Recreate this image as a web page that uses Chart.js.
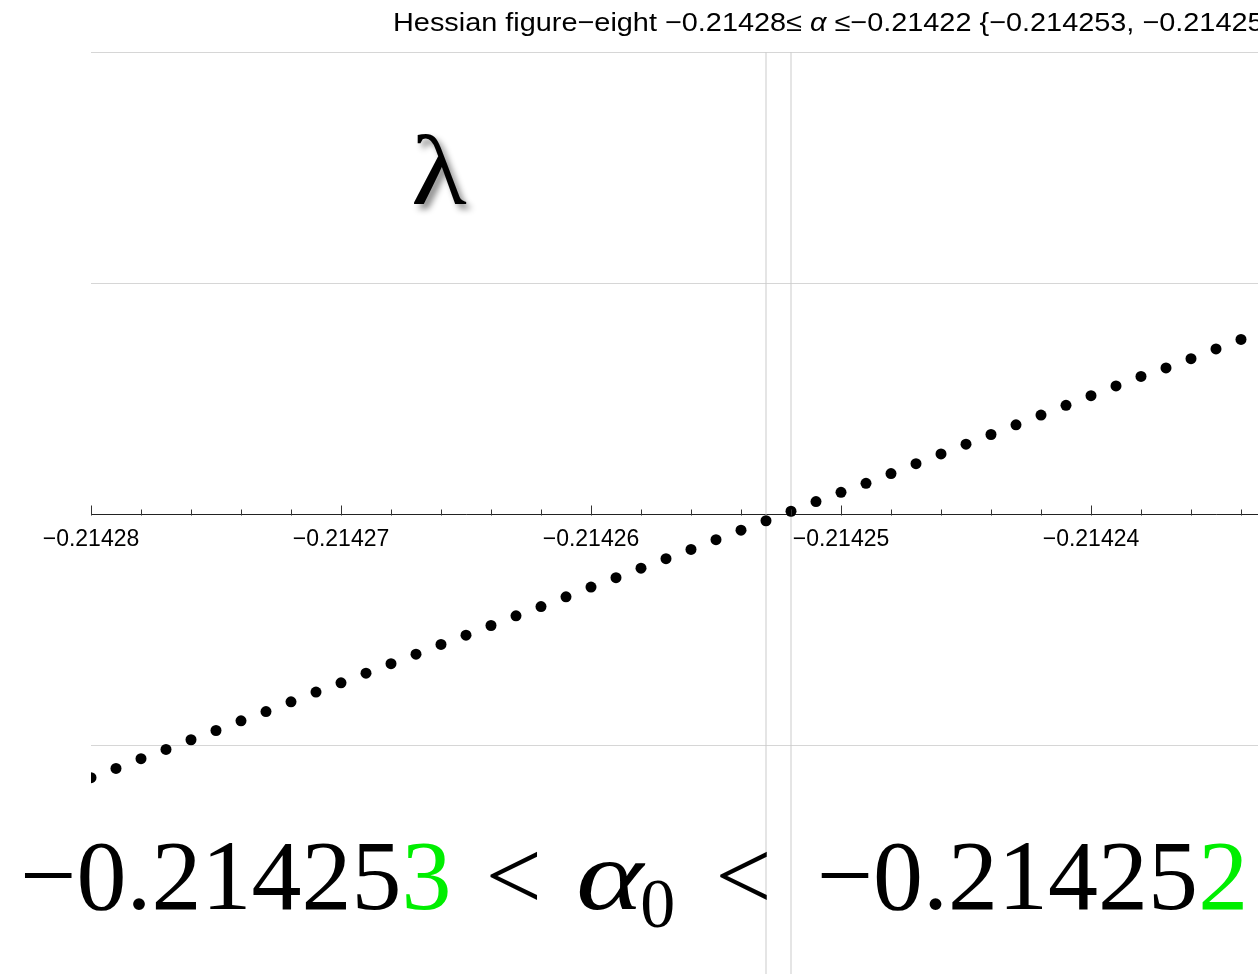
<!DOCTYPE html>
<html>
<head>
<meta charset="utf-8">
<title>Hessian figure-eight</title>
<script src="https://cdn.jsdelivr.net/npm/chart.js@4.4.0/dist/chart.umd.min.js"></script>
<style>
  html, body { margin: 0; padding: 0; background: #fff; }
  #wrap { position: relative; width: 1258px; height: 974px; overflow: hidden; }
  #plot { position: absolute; left: 0; top: 0; }
  .title {
    position: absolute; left: 393px; top: 9px;
    font: 26px/1 'Liberation Sans', Arial, sans-serif; color: #000;
    white-space: nowrap; transform-origin: 0 0; transform: scaleX(1.11);
  }
  .lam {
    position: absolute; left: 411px; top: 121px;
    font: 100px/1 'Liberation Serif', serif; color: #000;
    transform-origin: 0 0; transform: scaleX(1.15);
    text-shadow: 4px 5px 6px rgba(0, 0, 0, 0.45);
  }
  .bound {
    position: absolute; left: 20px; top: 826px;
    font: 100px/1 'Liberation Serif', serif; color: #000; white-space: nowrap;
  }
  .bound .g { color: #00ee00; }
  .bound .rel { margin: 0 34px; }
  .bound .rel2 { margin: 0 45px 0 40px; }
  .bound .alpha { display: inline-block; font-style: italic; transform-origin: 0 0; transform: scaleX(1.28); }
  .bound sub { font-size: 70px; vertical-align: -18px; line-height: 0; margin-left: 12px; }
</style>
</head>
<body>
<div id="wrap">
  <canvas id="plot" width="1700" height="1000" style="width:1700px;height:1000px"></canvas>
  <div class="title">Hessian figure−eight −0.21428≤ <i>α</i> ≤−0.21422 {−0.214253, −0.214252}</div>
  <div class="lam">λ</div>
  <div class="bound">−0.21425<span class="g">3</span><span class="rel">&lt;</span><span class="alpha">α</span><sub>0</sub><span class="rel2">&lt;</span>−0.21425<span class="g">2</span></div>
</div>
<script>
// lowest Hessian eigenvalue sampled along alpha, step 1e-6
const ALPHA = [
  -0.214280, -0.214279, -0.214278, -0.214277, -0.214276, -0.214275, -0.214274, -0.214273,
  -0.214272, -0.214271, -0.214270, -0.214269, -0.214268, -0.214267, -0.214266, -0.214265,
  -0.214264, -0.214263, -0.214262, -0.214261, -0.214260, -0.214259, -0.214258, -0.214257,
  -0.214256, -0.214255, -0.214254, -0.214253, -0.214252, -0.214251, -0.214250, -0.214249,
  -0.214248, -0.214247, -0.214246, -0.214245, -0.214244, -0.214243, -0.214242, -0.214241,
  -0.214240, -0.214239, -0.214238, -0.214237, -0.214236, -0.214235, -0.214234
];
const LAMBDA = [
  -1.138, -1.098, -1.056, -1.016, -0.974, -0.934, -0.892, -0.852,
  -0.810, -0.768, -0.728, -0.686, -0.645, -0.604, -0.562, -0.522,
  -0.480, -0.438, -0.398, -0.356, -0.314, -0.273, -0.232, -0.191,
  -0.151, -0.109, -0.068, -0.027, 0.014, 0.056, 0.096, 0.135,
  0.177, 0.220, 0.262, 0.304, 0.346, 0.388, 0.430, 0.472,
  0.514, 0.556, 0.597, 0.634, 0.674, 0.716, 0.757
];

// bracket around the sign change
const BRACKET = [-0.214253, -0.214252];

const X_MAJOR = [-0.21428, -0.21427, -0.21426, -0.21425, -0.21424, -0.21423, -0.21422];
const X_MINOR = [
  -0.214278, -0.214276, -0.214274, -0.214272,
  -0.214268, -0.214266, -0.214264, -0.214262,
  -0.214258, -0.214256, -0.214254, -0.214252,
  -0.214248, -0.214246, -0.214244, -0.214242,
  -0.214238, -0.214236, -0.214234, -0.214232,
  -0.214228, -0.214226, -0.214224, -0.214222
];
const Y_GRID = [-2, -1, 0, 1, 2];

const X_MIN = -0.21428, X_MAX = -0.21422;
const Y_MIN = -2, Y_MAX = 2;

// tick marks sit on top of the axis line, majors longer than minors
const axisTicks = {
  id: 'axisTicks',
  afterDatasetsDraw(chart) {
    const { ctx, scales: { x, y } } = chart;
    const y0 = Math.round(y.getPixelForValue(0)) + 0.5;
    const mark = (list, len) => {
      list.forEach(v => {
        const px = Math.round(x.getPixelForValue(v)) + 0.5;
        ctx.moveTo(px, y0);
        ctx.lineTo(px, y0 - len);
      });
    };
    ctx.save();
    ctx.strokeStyle = '#333';
    ctx.lineWidth = 1;
    ctx.beginPath();
    mark(X_MAJOR, 10);
    mark(X_MINOR, 6);
    ctx.stroke();
    ctx.restore();
  }
};

const bracketSets = BRACKET.map(v => ({
  type: 'line',
  data: [{ x: v, y: Y_MIN }, { x: v, y: Y_MAX }],
  borderColor: '#cbcbcb',
  borderWidth: 1,
  pointRadius: 0,
  clip: 0,
  order: 2
}));

new Chart(document.getElementById('plot'), {
  type: 'scatter',
  data: {
    datasets: [{
      data: ALPHA.map((a, i) => ({ x: a, y: LAMBDA[i] })),
      backgroundColor: '#000',
      borderWidth: 0,
      pointRadius: 5.5,
      clip: 0,
      order: 1
    }, ...bracketSets]
  },
  options: {
    responsive: false,
    animation: false,
    devicePixelRatio: 1,
    layout: { padding: { left: 91, top: 52, right: 109, bottom: 23 } },
    plugins: {
      legend: { display: false },
      tooltip: { enabled: false },
      title: { display: false }
    },
    scales: {
      x: {
        type: 'linear', min: X_MIN, max: X_MAX,
        position: { y: 0 },
        afterBuildTicks: ax => { ax.ticks = X_MAJOR.map(v => ({ value: v })); },
        grid: { drawOnChartArea: false, drawTicks: false },
        border: { color: '#222', width: 1 },
        ticks: {
          autoSkip: false, maxRotation: 0, padding: 11, color: '#000',
          font: { family: "'Liberation Sans', Arial, sans-serif", size: 23 },
          callback: v => '\u2212' + Math.abs(v).toFixed(5)
        }
      },
      y: {
        type: 'linear', min: Y_MIN, max: Y_MAX,
        afterBuildTicks: ax => { ax.ticks = Y_GRID.map(v => ({ value: v })); },
        grid: { color: '#d6d6d6', lineWidth: 1, drawTicks: false },
        border: { display: false },
        ticks: { display: false }
      }
    }
  },
  plugins: [axisTicks]
});
</script>
</body>
</html>
